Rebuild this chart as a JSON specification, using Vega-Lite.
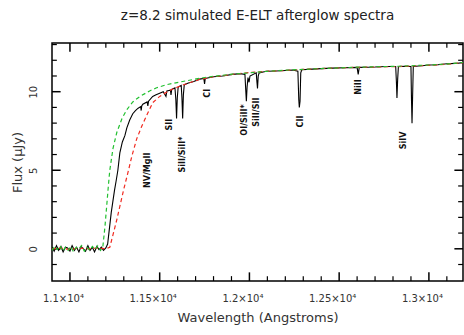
{
  "$schema": "https://vega.github.io/schema/vega-lite/v6.json",
  "width": 411,
  "height": 238,
  "autosize": "none",
  "padding": {"left": 52, "top": 43, "right": 1, "bottom": 54},
  "background": "white",
  "title": {"text": "z=8.2 simulated E-ELT afterglow spectra", "fontSize": 13.5, "font": "DejaVu Sans", "fontWeight": "normal", "color": "#222", "offset": 20, "anchor": "middle"},
  "config": {
    "view": {"stroke": "#000", "strokeWidth": 1.5},
    "axis": {"labelFont": "DejaVu Sans", "labelFontSize": 10, "labelColor": "#333", "titleFont": "DejaVu Sans", "titleFontSize": 13, "titleFontWeight": "normal", "titleColor": "#333", "ticks": false, "domain": false, "grid": false}
  },
  "datasets": {
    "black": [
      {"lam":10900,"flux":0.1},{"lam":10912,"flux":-0.15},{"lam":10925,"flux":0.2},{"lam":10937,"flux":-0.1},{"lam":10950,"flux":0.15},{"lam":10962,"flux":-0.2},{"lam":10975,"flux":0.1},{"lam":10987,"flux":0.05},{"lam":11000,"flux":-0.15},{"lam":11012,"flux":0.2},{"lam":11025,"flux":-0.1},{"lam":11037,"flux":0.1},{"lam":11050,"flux":-0.2},{"lam":11062,"flux":0.15},{"lam":11075,"flux":0.0},{"lam":11087,"flux":-0.15},{"lam":11100,"flux":0.2},{"lam":11112,"flux":-0.1},{"lam":11125,"flux":0.1},{"lam":11137,"flux":-0.2},{"lam":11150,"flux":0.15},{"lam":11162,"flux":-0.05},{"lam":11175,"flux":0.1},{"lam":11187,"flux":-0.1},{"lam":11200,"flux":0.05},{"lam":11210,"flux":0.3},{"lam":11220,"flux":1.3},{"lam":11230,"flux":2.3},{"lam":11239,"flux":3.0},{"lam":11248,"flux":3.7},{"lam":11257,"flux":4.3},{"lam":11267,"flux":5.0},{"lam":11278,"flux":6.1},{"lam":11292,"flux":6.8},{"lam":11306,"flux":7.2},{"lam":11317,"flux":7.7},{"lam":11333,"flux":8.2},{"lam":11350,"flux":8.6},{"lam":11365,"flux":8.8},{"lam":11380,"flux":8.95},{"lam":11394,"flux":9.05},{"lam":11397,"flux":8.8},{"lam":11400,"flux":9.1},{"lam":11406,"flux":9.2},{"lam":11430,"flux":9.35},{"lam":11434,"flux":9.1},{"lam":11438,"flux":9.4},{"lam":11461,"flux":9.7},{"lam":11480,"flux":9.8},{"lam":11500,"flux":9.9},{"lam":11520,"flux":10.0},{"lam":11535,"flux":9.7},{"lam":11540,"flux":10.05},{"lam":11560,"flux":10.1},{"lam":11563,"flux":9.8},{"lam":11567,"flux":10.15},{"lam":11585,"flux":10.25},{"lam":11590,"flux":9.5},{"lam":11594,"flux":8.3},{"lam":11598,"flux":9.6},{"lam":11603,"flux":10.3},{"lam":11620,"flux":10.4},{"lam":11624,"flux":9.6},{"lam":11628,"flux":8.3},{"lam":11632,"flux":9.8},{"lam":11637,"flux":10.45},{"lam":11660,"flux":10.55},{"lam":11690,"flux":10.65},{"lam":11722,"flux":10.8},{"lam":11746,"flux":10.85},{"lam":11750,"flux":10.5},{"lam":11754,"flux":10.85},{"lam":11800,"flux":10.95},{"lam":11850,"flux":11.0},{"lam":11906,"flux":11.1},{"lam":11950,"flux":11.15},{"lam":11975,"flux":11.1},{"lam":11980,"flux":10.0},{"lam":11983,"flux":9.4},{"lam":11987,"flux":10.3},{"lam":11992,"flux":10.9},{"lam":11998,"flux":10.6},{"lam":12003,"flux":11.0},{"lam":12038,"flux":11.2},{"lam":12042,"flux":10.6},{"lam":12045,"flux":10.2},{"lam":12049,"flux":11.0},{"lam":12054,"flux":11.2},{"lam":12094,"flux":11.3},{"lam":12150,"flux":11.32},{"lam":12200,"flux":11.35},{"lam":12240,"flux":11.38},{"lam":12270,"flux":11.3},{"lam":12275,"flux":9.5},{"lam":12278,"flux":9.0},{"lam":12282,"flux":9.4},{"lam":12286,"flux":11.2},{"lam":12292,"flux":11.4},{"lam":12350,"flux":11.44},{"lam":12400,"flux":11.47},{"lam":12461,"flux":11.5},{"lam":12530,"flux":11.52},{"lam":12600,"flux":11.55},{"lam":12606,"flux":11.1},{"lam":12612,"flux":11.55},{"lam":12700,"flux":11.57},{"lam":12760,"flux":11.6},{"lam":12815,"flux":11.6},{"lam":12819,"flux":10.6},{"lam":12822,"flux":9.6},{"lam":12826,"flux":10.8},{"lam":12830,"flux":11.6},{"lam":12870,"flux":11.62},{"lam":12900,"flux":11.6},{"lam":12903,"flux":9.5},{"lam":12906,"flux":8.0},{"lam":12909,"flux":9.6},{"lam":12913,"flux":11.6},{"lam":12960,"flux":11.65},{"lam":13000,"flux":11.7},{"lam":13050,"flux":11.72},{"lam":13100,"flux":11.78},{"lam":13150,"flux":11.8},{"lam":13190,"flux":11.85}
    ],
    "red": [
      {"lam":10900,"flux":0.0},{"lam":10950,"flux":0.05},{"lam":11000,"flux":-0.05},{"lam":11050,"flux":0.05},{"lam":11100,"flux":0.0},{"lam":11150,"flux":0.05},{"lam":11200,"flux":0.0},{"lam":11222,"flux":0.1},{"lam":11240,"flux":0.9},{"lam":11260,"flux":1.8},{"lam":11278,"flux":2.7},{"lam":11300,"flux":3.8},{"lam":11322,"flux":4.8},{"lam":11345,"flux":5.9},{"lam":11372,"flux":7.0},{"lam":11400,"flux":7.8},{"lam":11428,"flux":8.5},{"lam":11461,"flux":9.3},{"lam":11500,"flux":9.7},{"lam":11550,"flux":10.05},{"lam":11611,"flux":10.35},{"lam":11660,"flux":10.55},{"lam":11722,"flux":10.78},{"lam":11800,"flux":10.95},{"lam":11906,"flux":11.1},{"lam":12000,"flux":11.22},{"lam":12094,"flux":11.3},{"lam":12200,"flux":11.35},{"lam":12300,"flux":11.42},{"lam":12461,"flux":11.5},{"lam":12600,"flux":11.55},{"lam":12833,"flux":11.6},{"lam":13000,"flux":11.68},{"lam":13100,"flux":11.75},{"lam":13190,"flux":11.85}
    ],
    "green": [
      {"lam":10900,"flux":-0.1},{"lam":10915,"flux":0.15},{"lam":10930,"flux":-0.05},{"lam":10945,"flux":0.2},{"lam":10960,"flux":-0.15},{"lam":10975,"flux":0.1},{"lam":10990,"flux":-0.1},{"lam":11005,"flux":0.15},{"lam":11020,"flux":-0.2},{"lam":11035,"flux":0.1},{"lam":11050,"flux":0.0},{"lam":11065,"flux":0.2},{"lam":11080,"flux":-0.15},{"lam":11095,"flux":0.1},{"lam":11110,"flux":-0.1},{"lam":11125,"flux":0.15},{"lam":11140,"flux":-0.05},{"lam":11155,"flux":0.2},{"lam":11170,"flux":-0.1},{"lam":11183,"flux":0.1},{"lam":11195,"flux":1.4},{"lam":11206,"flux":2.9},{"lam":11214,"flux":4.0},{"lam":11222,"flux":5.0},{"lam":11240,"flux":6.4},{"lam":11261,"flux":7.4},{"lam":11290,"flux":8.3},{"lam":11317,"flux":8.85},{"lam":11350,"flux":9.35},{"lam":11390,"flux":9.7},{"lam":11444,"flux":10.05},{"lam":11483,"flux":10.25},{"lam":11539,"flux":10.45},{"lam":11628,"flux":10.65},{"lam":11722,"flux":10.85},{"lam":11800,"flux":10.98},{"lam":11906,"flux":11.12},{"lam":12000,"flux":11.2},{"lam":12100,"flux":11.3},{"lam":12200,"flux":11.37},{"lam":12300,"flux":11.42},{"lam":12461,"flux":11.5},{"lam":12600,"flux":11.56},{"lam":12833,"flux":11.62},{"lam":13000,"flux":11.7},{"lam":13100,"flux":11.76},{"lam":13190,"flux":11.86}
    ],
    "labels": [
      {"lam":11433,"flux":5.0,"t":"NV/MgII"},{"lam":11556,"flux":7.9,"t":"SII"},{"lam":11628,"flux":6.0,"t":"SiII/SiII*"},{"lam":11770,"flux":9.9,"t":"CI"},{"lam":11978,"flux":8.2,"t":"OI/SiII*"},{"lam":12044,"flux":8.7,"t":"SiII/SII"},{"lam":12289,"flux":8.1,"t":"CII"},{"lam":12611,"flux":10.3,"t":"NiII"},{"lam":12861,"flux":6.9,"t":"SiIV"}
    ],
    "xticks": [
      {"v":11000,"kind":"major"},{"v":11500,"kind":"major"},{"v":12000,"kind":"major"},{"v":12500,"kind":"major"},{"v":13000,"kind":"major"},
      {"v":11100,"kind":"minor"},{"v":11200,"kind":"minor"},{"v":11300,"kind":"minor"},{"v":11400,"kind":"minor"},{"v":11600,"kind":"minor"},{"v":11700,"kind":"minor"},{"v":11800,"kind":"minor"},{"v":11900,"kind":"minor"},{"v":12100,"kind":"minor"},{"v":12200,"kind":"minor"},{"v":12300,"kind":"minor"},{"v":12400,"kind":"minor"},{"v":12600,"kind":"minor"},{"v":12700,"kind":"minor"},{"v":12800,"kind":"minor"},{"v":12900,"kind":"minor"},{"v":13100,"kind":"minor"}
    ],
    "yticks": [
      {"v":0,"kind":"major"},{"v":5,"kind":"major"},{"v":10,"kind":"major"},
      {"v":-1,"kind":"minor"},{"v":1,"kind":"minor"},{"v":2,"kind":"minor"},{"v":3,"kind":"minor"},{"v":4,"kind":"minor"},{"v":6,"kind":"minor"},{"v":7,"kind":"minor"},{"v":8,"kind":"minor"},{"v":9,"kind":"minor"},{"v":11,"kind":"minor"},{"v":12,"kind":"minor"},{"v":13,"kind":"minor"}
    ]
  },
  "layer": [
    {
      "data": {"name": "xticks"},
      "transform": [{"filter": "datum.kind == 'major'"}],
      "mark": {"type": "rule", "color": "#000", "strokeWidth": 1.5},
      "encoding": {"x": {"field": "v", "type": "quantitative", "scale": {"domain": [10900, 13190], "nice": false, "zero": false}, "axis": null}, "y": {"datum": -2.05, "type": "quantitative", "scale": {"domain": [-2.05, 13.1], "nice": false, "zero": false}, "axis": null}, "y2": {"datum": -1.5}}
    },
    {
      "data": {"name": "xticks"},
      "transform": [{"filter": "datum.kind == 'major'"}],
      "mark": {"type": "rule", "color": "#000", "strokeWidth": 1.5},
      "encoding": {"x": {"field": "v", "type": "quantitative", "axis": null}, "y": {"datum": 13.1, "type": "quantitative", "axis": null}, "y2": {"datum": 12.55}}
    },
    {
      "data": {"name": "xticks"},
      "transform": [{"filter": "datum.kind == 'minor'"}],
      "mark": {"type": "rule", "color": "#000", "strokeWidth": 1.2},
      "encoding": {"x": {"field": "v", "type": "quantitative", "axis": null}, "y": {"datum": -2.05, "type": "quantitative", "axis": null}, "y2": {"datum": -1.74}}
    },
    {
      "data": {"name": "xticks"},
      "transform": [{"filter": "datum.kind == 'minor'"}],
      "mark": {"type": "rule", "color": "#000", "strokeWidth": 1.2},
      "encoding": {"x": {"field": "v", "type": "quantitative", "axis": null}, "y": {"datum": 13.1, "type": "quantitative", "axis": null}, "y2": {"datum": 12.79}}
    },
    {
      "data": {"name": "yticks"},
      "transform": [{"filter": "datum.kind == 'major'"}],
      "mark": {"type": "rule", "color": "#000", "strokeWidth": 1.5},
      "encoding": {"y": {"field": "v", "type": "quantitative", "axis": null}, "x": {"datum": 10900, "type": "quantitative", "axis": null}, "x2": {"datum": 10948}}
    },
    {
      "data": {"name": "yticks"},
      "transform": [{"filter": "datum.kind == 'major'"}],
      "mark": {"type": "rule", "color": "#000", "strokeWidth": 1.5},
      "encoding": {"y": {"field": "v", "type": "quantitative", "axis": null}, "x": {"datum": 13190, "type": "quantitative", "axis": null}, "x2": {"datum": 13142}}
    },
    {
      "data": {"name": "yticks"},
      "transform": [{"filter": "datum.kind == 'minor'"}],
      "mark": {"type": "rule", "color": "#000", "strokeWidth": 1.2},
      "encoding": {"y": {"field": "v", "type": "quantitative", "axis": null}, "x": {"datum": 10900, "type": "quantitative", "axis": null}, "x2": {"datum": 10927}}
    },
    {
      "data": {"name": "yticks"},
      "transform": [{"filter": "datum.kind == 'minor'"}],
      "mark": {"type": "rule", "color": "#000", "strokeWidth": 1.2},
      "encoding": {"y": {"field": "v", "type": "quantitative", "axis": null}, "x": {"datum": 13190, "type": "quantitative", "axis": null}, "x2": {"datum": 13163}}
    },
    {
      "data": {"name": "black"},
      "mark": {"type": "line", "color": "#000", "strokeWidth": 1.1, "clip": true},
      "encoding": {
        "x": {"field": "lam", "type": "quantitative",
              "axis": {"orient": "bottom", "values": [11000, 11500, 12000, 12500, 13000], "labelExpr": "format(datum.value/10000, '.2~f') + '×10⁴'", "labelPadding": 12, "labelOffset": -7, "title": "Wavelength (Angstroms)", "titlePadding": 8}},
        "y": {"field": "flux", "type": "quantitative",
              "axis": {"orient": "left", "values": [0, 5, 10], "labelAngle": 270, "labelAlign": "center", "labelBaseline": "middle", "labelPadding": 19, "title": "Flux (μJy)", "titlePadding": 4}}
      }
    },
    {
      "data": {"name": "red"},
      "mark": {"type": "line", "color": "#f02a20", "strokeWidth": 1.2, "strokeDash": [4, 3], "clip": true},
      "encoding": {
        "x": {"field": "lam", "type": "quantitative", "axis": null},
        "y": {"field": "flux", "type": "quantitative", "axis": null}
      }
    },
    {
      "data": {"name": "green"},
      "mark": {"type": "line", "color": "#22c030", "strokeWidth": 1.2, "strokeDash": [4, 3], "clip": true},
      "encoding": {
        "x": {"field": "lam", "type": "quantitative", "axis": null},
        "y": {"field": "flux", "type": "quantitative", "axis": null}
      }
    },
    {
      "data": {"name": "labels"},
      "mark": {"type": "text", "angle": 270, "align": "center", "baseline": "middle", "font": "DejaVu Sans", "fontSize": 8, "fontWeight": "bold", "color": "#111"},
      "encoding": {
        "x": {"field": "lam", "type": "quantitative", "axis": null},
        "y": {"field": "flux", "type": "quantitative", "axis": null},
        "text": {"field": "t"}
      }
    },
    {
      "mark": {"type": "rule", "color": "#000", "strokeWidth": 1.2},
      "encoding": {"y": {"datum": 0, "type": "quantitative", "axis": null}}
    }
  ],
  "resolve": {"axis": {"x": "independent", "y": "independent"}}
}
